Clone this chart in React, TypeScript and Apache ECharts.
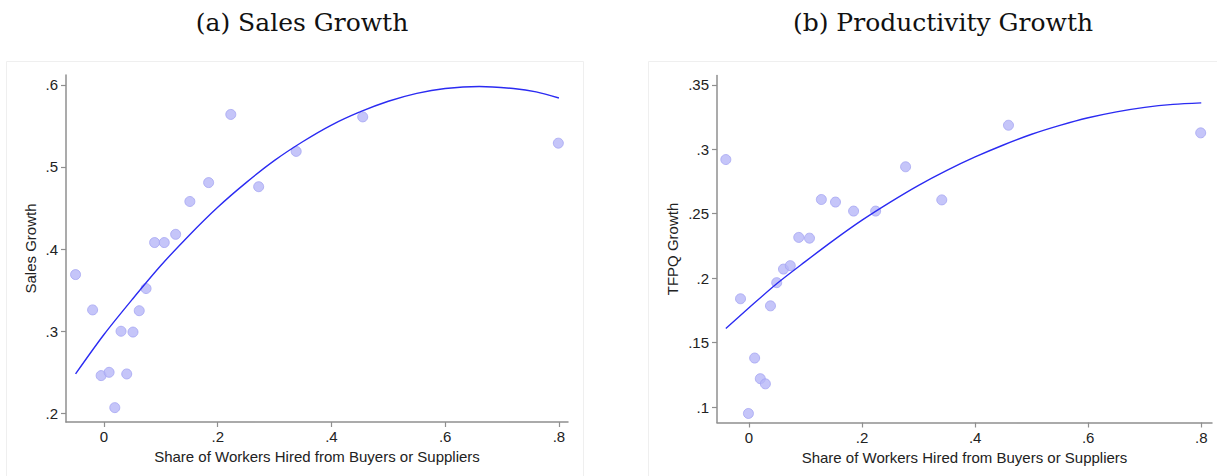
import React, { useEffect, useRef } from "react";
import * as echarts from "echarts";

// ---- Panel (a): Sales Growth (binned scatter) ----
const salesX = [-0.050, -0.020, -0.005, 0.009, 0.019, 0.030, 0.040, 0.051, 0.062, 0.074, 0.089, 0.106, 0.126, 0.151, 0.184, 0.223, 0.272, 0.338, 0.455, 0.799];
const salesY = [0.369, 0.326, 0.246, 0.250, 0.207, 0.300, 0.248, 0.299, 0.325, 0.352, 0.408, 0.408, 0.418, 0.458, 0.481, 0.564, 0.476, 0.519, 0.561, 0.529];
// quadratic fit line
const salesFitX = [-0.05, 0, 0.05, 0.1, 0.15, 0.2, 0.25, 0.3, 0.35, 0.4, 0.45, 0.5, 0.55, 0.6, 0.66, 0.72, 0.76, 0.8];
const salesFitY = [0.248, 0.296, 0.339, 0.380, 0.417, 0.451, 0.481, 0.508, 0.531, 0.551, 0.567, 0.580, 0.5896, 0.5955, 0.598, 0.5955, 0.5915, 0.584];

// ---- Panel (b): Productivity (TFPQ) Growth ----
const tfpqX = [-0.041, -0.015, -0.001, 0.010, 0.020, 0.029, 0.038, 0.049, 0.061, 0.073, 0.088, 0.107, 0.128, 0.153, 0.185, 0.224, 0.277, 0.341, 0.459, 0.799];
const tfpqY = [0.292, 0.184, 0.095, 0.138, 0.122, 0.118, 0.1785, 0.1965, 0.207, 0.2097, 0.2316, 0.231, 0.261, 0.259, 0.252, 0.252, 0.2864, 0.2607, 0.3186, 0.3127];
const tfpqFitX = [-0.041, 0, 0.05, 0.1, 0.15, 0.2, 0.25, 0.3, 0.35, 0.4, 0.45, 0.5, 0.55, 0.6, 0.65, 0.7, 0.75, 0.8];
const tfpqFitY = [0.161, 0.177, 0.196, 0.213, 0.2295, 0.245, 0.259, 0.272, 0.2836, 0.294, 0.3033, 0.3116, 0.3185, 0.3244, 0.329, 0.3325, 0.3348, 0.336];

// ---- Tick labels ----
const xTicks = [0, 0.2, 0.4, 0.6, 0.8];
const salesTicks = [0.2, 0.3, 0.4, 0.5, 0.6];
const tfpqTicks = [0.1, 0.15, 0.2, 0.25, 0.3, 0.35];

const titles = ["(a) Sales Growth", "(b) Productivity Growth"];
const xTitle = "Share of Workers Hired from Buyers or Suppliers";
const yTitles = ["Sales Growth", "TFPQ Growth"];

const zip = (xs: number[], ys: number[]) => xs.map((x, i) => [x, ys[i]]);
const fmt = (v: number) => (v === 0 ? "0" : String(+v.toFixed(3)).replace(/^0\./, "."));

const AXIS_COLOR = "#8f8f8f";
const LABEL_COLOR = "#222";
const FONT = "'Liberation Sans', Arial, sans-serif";
const TITLE_FONT = "25px 'DejaVu Serif', 'Liberation Serif', serif";

function xAxisCfg(gridIndex: number, min: number, max: number) {
  return {
    type: "value",
    gridIndex,
    min,
    max,
    name: xTitle,
    nameLocation: "middle",
    nameGap: 27,
    nameTextStyle: { color: LABEL_COLOR, fontSize: 15, fontFamily: FONT },
    axisLine: { show: true, onZero: false, lineStyle: { color: AXIS_COLOR, width: 1.5 } },
    axisTick: { show: true, length: 5, customValues: xTicks, lineStyle: { color: AXIS_COLOR, width: 1.2 } },
    axisLabel: { customValues: xTicks, formatter: fmt, color: LABEL_COLOR, fontSize: 15, fontFamily: FONT, margin: 7 },
    splitLine: { show: false },
  };
}

function yAxisCfg(gridIndex: number, min: number, max: number, ticks: number[], name: string, gap: number) {
  return {
    type: "value",
    gridIndex,
    min,
    max,
    name,
    nameLocation: "middle",
    nameGap: gap,
    nameTextStyle: { color: LABEL_COLOR, fontSize: 15, fontFamily: FONT },
    axisLine: { show: true, onZero: false, lineStyle: { color: AXIS_COLOR, width: 1.5 } },
    axisTick: { show: true, length: 5, customValues: ticks, lineStyle: { color: AXIS_COLOR, width: 1.2 } },
    axisLabel: { customValues: ticks, formatter: fmt, color: LABEL_COLOR, fontSize: 15, fontFamily: FONT, margin: 8 },
    splitLine: { show: false },
  };
}

const dotStyle = { color: "#b6b6f8", borderColor: "#a5a5f3", borderWidth: 1 };
const lineStyle = { color: "#2b2bf2", width: 1.4 };

export default function App() {
  const ref = useRef<HTMLDivElement>(null);
  useEffect(() => {
    if (!ref.current) return;
    const chart = echarts.init(ref.current, null, { renderer: "svg" });
    chart.setOption({
      animation: false,
      backgroundColor: "#ffffff",
      graphic: [
        { type: "rect", shape: { x: 6.5, y: 61.5, width: 577, height: 430 }, style: { fill: "none", stroke: "#efefef", lineWidth: 1 }, silent: true, z: -1 },
        { type: "rect", shape: { x: 648.5, y: 61.5, width: 580, height: 430 }, style: { fill: "none", stroke: "#efefef", lineWidth: 1 }, silent: true, z: -1 },
        { type: "text", x: 302, y: 22, style: { text: titles[0], fill: "#111", font: TITLE_FONT, textAlign: "center", textVerticalAlign: "middle" } },
        { type: "text", x: 943, y: 22, style: { text: titles[1], fill: "#111", font: TITLE_FONT, textAlign: "center", textVerticalAlign: "middle" } },
      ],
      grid: [
        { left: 66, top: 75, width: 502, height: 347 },
        { left: 717, top: 75.5, width: 495, height: 347 },
      ],
      xAxis: [xAxisCfg(0, -0.0668, 0.816), xAxisCfg(1, -0.0566, 0.819)],
      yAxis: [
        yAxisCfg(0, 0.1895, 0.612, salesTicks, yTitles[0], 28),
        yAxisCfg(1, 0.088, 0.3572, tfpqTicks, yTitles[1], 37),
      ],
      series: [
        { type: "scatter", xAxisIndex: 0, yAxisIndex: 0, data: zip(salesX, salesY), symbolSize: 10, itemStyle: dotStyle, z: 2 },
        { type: "line", xAxisIndex: 0, yAxisIndex: 0, data: zip(salesFitX, salesFitY), smooth: 0.3, showSymbol: false, symbol: "none", lineStyle, z: 3 },
        { type: "scatter", xAxisIndex: 1, yAxisIndex: 1, data: zip(tfpqX, tfpqY), symbolSize: 10, itemStyle: dotStyle, z: 2 },
        { type: "line", xAxisIndex: 1, yAxisIndex: 1, data: zip(tfpqFitX, tfpqFitY), smooth: 0.3, showSymbol: false, symbol: "none", lineStyle, z: 3 },
      ],
    });
    return () => chart.dispose();
  }, []);
  return (
    <div
      ref={ref}
      style={{ position: "fixed", left: 0, top: 0, width: 1217, height: 476, background: "#fff" }}
    />
  );
}
